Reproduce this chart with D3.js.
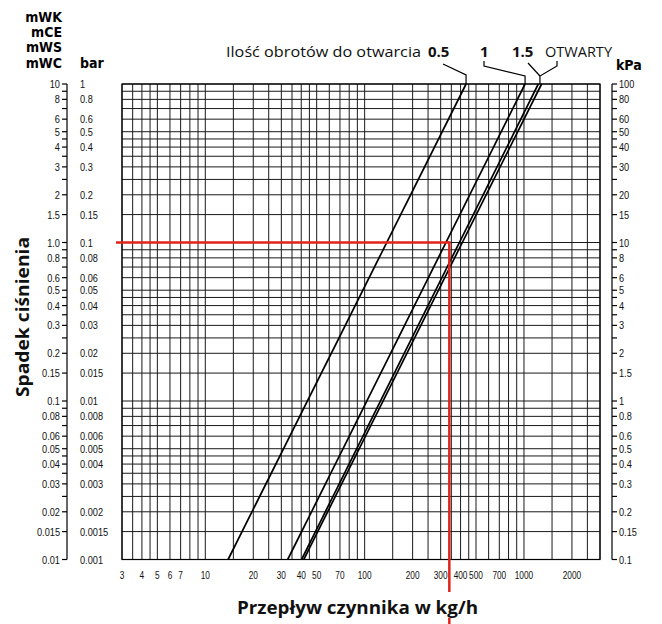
<!DOCTYPE html>
<html><head><meta charset="utf-8">
<script src="https://cdn.jsdelivr.net/npm/d3@7"></script>
<style>
html,body{margin:0;padding:0;background:#fff;}
.tick{font-family:"Liberation Sans",Arial,sans-serif;font-size:11.5px;fill:#111;}
.hdr{font-family:"DejaVu Sans Condensed","DejaVu Sans",sans-serif;font-stretch:condensed;font-weight:bold;font-size:14px;fill:#000;}
.ttl{font-family:"Open Sans","Noto Sans",sans-serif;font-weight:bold;font-size:18px;fill:#111;}
.ann{font-family:"Open Sans","Noto Sans",sans-serif;font-size:15px;fill:#111;}
</style></head>
<body><svg id="c" width="662" height="624"></svg>
<script>
// ---- data ----
const seriesNames = ["0.5", "1", "1.5", "OTWARTY"];
const pressureEnds = [0.001, 1];            // bar
const flow05 = [13.9, 433];                 // kg/h at 0.001 bar, 1 bar
const flow1 = [32.9, 1016];
const flow15 = [40.2, 1230];
const flowOpen = [41.5, 1290];
const markerPressure = 0.1;                 // bar
const markerFlow = 340;                     // kg/h
const xTickLabels = [3,4,5,6,7,10,20,30,40,50,70,100,200,300,400,500,700,1000,2000];
const xGridMantissas = [1,1.5,2,2.5,3,3.5,4,4.5,5,6,7,8,9];
const yGridMantissas = [1,0.9,0.8,0.7,0.6,0.5,0.45,0.4,0.35,0.3,0.25,0.2,0.15];
const barTicks = [1,0.8,0.6,0.5,0.4,0.3,0.2,0.15,0.1,0.08,0.06,0.05,0.04,0.03,0.02,0.015,0.01,0.008,0.006,0.005,0.004,0.003,0.002,0.0015,0.001];
const barLabels = ["1","0.8","0.6","0.5","0.4","0.3","0.2","0.15","0.1","0.08","0.06","0.05","0.04","0.03","0.02","0.015","0.01","0.008","0.006","0.005","0.004","0.003","0.002","0.0015","0.001"];
const mwkLabels = ["10","8","6","5","4","3","2","1.5","1.0","0.8","0.6","0.5","0.4","0.3","0.2","0.15","0.1","0.08","0.06","0.05","0.04","0.03","0.02","0.015","0.01"];
const kpaLabels = ["100","80","60","50","40","30","20","15","10","8","6","5","4","3","2","1.5","1","0.8","0.6","0.5","0.4","0.3","0.2","0.15","0.1"];
const unitHeaders = ["mWK","mCE","mWS","mWC"];

// ---- layout ----
const L = 122, R = 600, T = 84, B = 559.5;
const x = d3.scaleLog().domain([3, 3000]).range([L, R]);
const y = d3.scaleLog().domain([0.001, 1]).range([B, T]);
const svg = d3.select("#c");

// grid
const xGrid = [];
[1,10,100,1000].forEach(d => xGridMantissas.forEach(m => { const v = m*d; if (v >= 3 && v <= 3000) xGrid.push(v); }));
const yGrid = [];
[1,0.1,0.01].forEach(d => yGridMantissas.forEach(m => yGrid.push(m*d)));
yGrid.push(0.001);

const g = svg.append("g");
g.selectAll(".vg").data(xGrid).join("line")
  .attr("x1", d => x(d)).attr("x2", d => x(d)).attr("y1", T).attr("y2", B)
  .attr("stroke", "#1a1a1a").attr("stroke-width", 1);
g.selectAll(".hg").data(yGrid).join("line")
  .attr("x1", L).attr("x2", R).attr("y1", d => y(d)).attr("y2", d => y(d))
  .attr("stroke", "#1a1a1a").attr("stroke-width", 1);
g.append("rect").attr("x", L).attr("y", T).attr("width", R-L).attr("height", B-T)
  .attr("fill", "none").attr("stroke", "#000").attr("stroke-width", 1.2);

// x labels
svg.append("g").attr("class", "xl").selectAll("text").data(xTickLabels).join("text")
  .attr("class", "tick").attr("x", d => x(d)).attr("y", 579).attr("text-anchor", "middle").text(d => d);

// left axis (mWK / bar)
const AX = 67;
svg.append("line").attr("x1", AX).attr("x2", AX).attr("y1", y(1)).attr("y2", y(0.001)).attr("stroke", "#000").attr("stroke-width", 1.2);
svg.append("g").selectAll("line").data(yGrid).join("line")
  .attr("x1", AX-5).attr("x2", AX).attr("y1", d => y(d)).attr("y2", d => y(d)).attr("stroke", "#000").attr("stroke-width", 1.2);
svg.append("g").selectAll("text").data(barTicks).join("text")
  .attr("class", "tick").attr("x", 60).attr("y", d => y(d)).attr("dy", "0.35em").attr("text-anchor", "end")
  .text((d, i) => mwkLabels[i]);
svg.append("g").selectAll("text").data(barTicks).join("text")
  .attr("class", "tick").attr("x", 80).attr("y", d => y(d)).attr("dy", "0.35em").attr("text-anchor", "start")
  .text((d, i) => barLabels[i]);

// right axis kPa
const RX = 612;
svg.append("line").attr("x1", RX).attr("x2", RX).attr("y1", y(1)).attr("y2", y(0.001)).attr("stroke", "#000").attr("stroke-width", 1.2);
svg.append("g").selectAll("line").data(yGrid).join("line")
  .attr("x1", RX).attr("x2", RX+5).attr("y1", d => y(d)).attr("y2", d => y(d)).attr("stroke", "#000").attr("stroke-width", 1.2);
svg.append("g").selectAll("text").data(barTicks).join("text")
  .attr("class", "tick").attr("x", 619).attr("y", d => y(d)).attr("dy", "0.35em").text((d, i) => kpaLabels[i]);

// condense tick labels (reference uses a condensed face)
svg.selectAll("text.tick").each(function() {
  const w = this.getComputedTextLength();
  const f = this.parentNode.getAttribute("class") === "xl" ? 0.72 : 0.8;
  d3.select(this).attr("textLength", (w * f).toFixed(2)).attr("lengthAdjust", "spacingAndGlyphs");
});

// headers
svg.append("g").selectAll("text").data(unitHeaders).join("text")
  .attr("class", "hdr").attr("x", 62).attr("y", (d, i) => [22,37,52,68][i]).attr("text-anchor", "end").text(d => d);
svg.append("text").attr("class", "hdr").attr("x", 80).attr("y", 68).text("bar");
svg.append("text").attr("class", "hdr").attr("x", 616).attr("y", 70).text("kPa");

// series lines
const series = [flow05, flow1, flow15, flowOpen];
const line = d3.line().x(d => x(d[0])).y(d => y(d[1]));
svg.append("g").selectAll("path").data(series).join("path")
  .attr("d", s => line(s.map((f, i) => [f, pressureEnds[i]])))
  .attr("fill", "none").attr("stroke", "#000").attr("stroke-width", 1.7);

// red marker
const red = "#e2231a";
svg.append("line").attr("x1", L-6).attr("x2", x(markerFlow)).attr("y1", y(markerPressure)).attr("y2", y(markerPressure))
  .attr("stroke", red).attr("stroke-width", 2.5);
svg.append("line").attr("x1", x(markerFlow)).attr("x2", x(markerFlow)).attr("y1", y(markerPressure)-1.2).attr("y2", 624)
  .attr("stroke", red).attr("stroke-width", 2.5);

// titles
svg.append("rect").attr("x", 235).attr("y", 592).attr("width", 246).attr("height", 26).attr("fill", "#fff");
svg.append("text").attr("class", "ttl").attr("x", 237).attr("y", 614)
  .attr("textLength", 241).attr("lengthAdjust", "spacingAndGlyphs").text("Przepływ czynnika w kg/h");
svg.append("text").attr("class", "ttl").attr("transform", "translate(29,397) rotate(-90)")
  .attr("textLength", 160).attr("lengthAdjust", "spacingAndGlyphs").text("Spadek ciśnienia");

// annotation
svg.append("text").attr("class", "ann").attr("x", 226).attr("y", 57)
  .attr("textLength", 195).attr("lengthAdjust", "spacingAndGlyphs").text("Ilość obrotów do otwarcia");
svg.append("text").attr("class", "ann").attr("font-weight", "bold").attr("x", 428).attr("y", 57).text(seriesNames[0]);
svg.append("text").attr("class", "ann").attr("font-weight", "bold").attr("x", 480).attr("y", 57).text(seriesNames[1]);
svg.append("text").attr("class", "ann").attr("font-weight", "bold").attr("x", 512).attr("y", 57).text(seriesNames[2]);
svg.append("text").attr("class", "ann").attr("x", 545).attr("y", 57)
  .attr("textLength", 67).attr("lengthAdjust", "spacingAndGlyphs").text(seriesNames[3]);

// leader lines, anchored on the line tops
const tops = series.map(s => x(s[1]));
const lead = d3.line();
const mid = (tops[2] + tops[3]) / 2;
const leaders = [
  [[443, 64], [tops[0], 75], [tops[0], T]],
  [[484, 61], [484, 66], [tops[1], 76], [tops[1], T]],
  [[528, 63], [mid, 76]],
  [[557, 61], [557, 66], [mid, 76], [mid, T]]
];
svg.append("g").selectAll("path").data(leaders).join("path")
  .attr("d", d => lead(d)).attr("fill", "none").attr("stroke", "#000").attr("stroke-width", 1.2);
</script></body></html>
